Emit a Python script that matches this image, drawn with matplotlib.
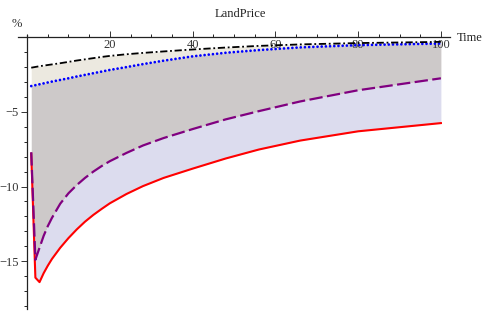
import matplotlib
matplotlib.use("Agg")
import matplotlib.pyplot as plt
from matplotlib.ticker import MultipleLocator

# Data
time = [1, 2, 3, 4, 5, 6, 8, 10, 12, 14, 16, 18, 20, 24, 28, 33, 40, 48, 56, 66, 80, 100]
black_series = [-2.04, -1.99, -1.94, -1.90, -1.86, -1.82, -1.74, -1.65, -1.56, -1.48, -1.40,
                -1.32, -1.25, -1.14, -1.05, -0.95, -0.82, -0.69, -0.58, -0.48, -0.39, -0.31]
blue_series = [-3.27, -3.21, -3.15, -3.09, -3.03, -2.97, -2.86, -2.75, -2.63, -2.52, -2.41,
               -2.30, -2.19, -2.00, -1.80, -1.57, -1.28, -1.04, -0.86, -0.68, -0.53, -0.42]
purple_series = [-7.7, -14.9, -14.1, -13.3, -12.65, -12.1, -11.15, -10.45, -9.9, -9.42, -9.0,
                 -8.63, -8.3, -7.75, -7.25, -6.75, -6.15, -5.5, -4.95, -4.3, -3.55, -2.75]
red_series = [-7.8, -16.1, -16.4, -15.8, -15.3, -14.85, -14.1, -13.45, -12.87, -12.35, -11.9,
              -11.5, -11.12, -10.5, -9.97, -9.42, -8.8, -8.12, -7.52, -6.92, -6.3, -5.75]
x_ticks = [20, 40, 60, 80, 100]
y_ticks = [-5, -10, -15]

serif = ["Liberation Serif", "DejaVu Serif"]

fig = plt.figure(figsize=(4.82, 3.12), dpi=100)
ax = fig.add_axes([18 / 482, 3 / 312, 432 / 482, 274 / 312])
ax.set_xlim(-2.2, 102.2)
ax.set_ylim(-18.2, 0.15)

ax.fill_between(time, black_series, blue_series, color="#ECE9E0", lw=0)
ax.fill_between(time, blue_series, purple_series, color="#CDC9C9", lw=0)
ax.fill_between(time, purple_series, red_series, color="#DCDCEE", lw=0)

ax.plot(time, red_series, color="#FF0000", lw=1.5, solid_joinstyle="round")
ax.plot(time, purple_series, color="#800080", lw=1.6, dashes=(6, 2))
ax.plot(time, blue_series, color="#0000FF", lw=2.0, dashes=(0.01, 1.5),
        dash_capstyle="round")
ax.plot(time, black_series, color="black", lw=1.3, dashes=(4, 1.5, 1, 1.5))

for s in ["top", "right"]:
    ax.spines[s].set_visible(False)
ax.spines["bottom"].set_position(("data", 0))
ax.spines["left"].set_position(("data", 0))
ax.spines["bottom"].set_color("#222222")
ax.spines["left"].set_color("#222222")
ax.spines["bottom"].set_linewidth(0.9)
ax.spines["left"].set_linewidth(0.9)

ax.set_xticks(x_ticks)
ax.set_yticks(y_ticks)
ax.xaxis.set_minor_locator(MultipleLocator(5))
ax.yaxis.set_minor_locator(MultipleLocator(1))
ax.tick_params(axis="x", which="major", direction="in", length=4, width=0.7,
               pad=1, labelsize=9, colors="#333333")
ax.tick_params(axis="x", which="minor", direction="in", length=2, width=0.6)
ax.tick_params(axis="y", which="major", direction="out", length=4, width=0.7,
               pad=2, labelsize=9, colors="#333333")
ax.tick_params(axis="y", which="minor", direction="out", length=2, width=0.6)
ax.set_xticklabels([str(v) for v in x_ticks], family=serif)
ax.set_yticklabels(["\u2212" + str(-v) for v in y_ticks], family=serif)

fig.text(240 / 482, 1 - 14 / 312, "LandPrice", ha="center", va="center",
         fontsize=9, family=serif, color="#222222")
fig.text(17 / 482, 1 - 24 / 312, "%", ha="center", va="center",
         fontsize=9, family=serif, color="#333333")
fig.text(457 / 482, 1 - 38 / 312, "Time", ha="left", va="center",
         fontsize=9, family=serif, color="#222222")

fig.savefig("out.png", dpi=100)
